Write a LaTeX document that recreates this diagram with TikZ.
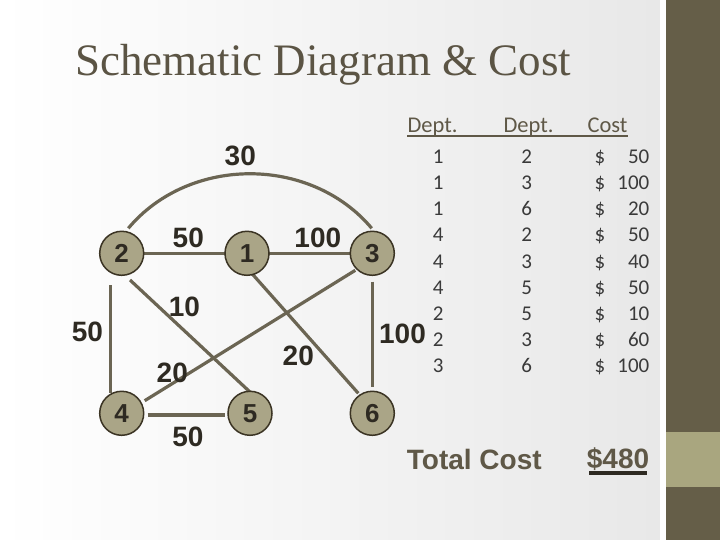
\documentclass[tikz,border=0pt]{standalone}
\usepackage{fontspec}
\setmainfont{Liberation Serif}
\newfontfamily\arialf{Liberation Sans}
\newfontfamily\calf{Carlito}
\usetikzlibrary{calc}
\pgfdeclarelayer{backg}
\pgfdeclarelayer{edgel}
\pgfsetlayers{backg,edgel,main}
\definecolor{edgec}{HTML}{6B6553}
\definecolor{nodefill}{HTML}{AAA587}
\definecolor{nodedraw}{HTML}{3B3424}
\definecolor{labc}{HTML}{2E2A22}
\definecolor{headc}{HTML}{5F5847}
\definecolor{numc}{HTML}{3A3A3A}
\definecolor{bardark}{HTML}{655E48}
\definecolor{barlight}{HTML}{A9A67F}
\definecolor{titlec}{HTML}{5B5444}
\definecolor{bgray}{HTML}{E8E8E8}
\tikzset{
  dept/.style={circle, fill=nodefill, draw=nodedraw, line width=1.5pt, minimum size=44pt, inner sep=0pt,
    font=\arialf\bfseries\fontsize{26}{26}\selectfont, text=labc},
  link/.style={draw=edgec, line width=3.2pt},
  wlab/.style={font=\arialf\bfseries\fontsize{28}{28}\selectfont, text=labc, inner sep=0pt},
  hd/.style={font=\calf\fontsize{22.5}{22.5}\selectfont, text=headc, inner sep=0pt, anchor=base west},
  cell/.style={font=\calf\fontsize{21}{21}\selectfont, text=numc, inner sep=0pt},
  tot/.style={font=\arialf\bfseries\fontsize{28}{28}\selectfont, text=headc, inner sep=0pt, anchor=base west}
}
\begin{document}
\begin{tikzpicture}[x=1pt,y=1pt]
\useasboundingbox (0,0) rectangle (720,540);
\begin{pgfonlayer}{backg}
  \shade[left color=white, right color=bgray] (0,0) rectangle (660,540);
  \fill[white] (660,0) rectangle (666,540);
  \fill[bardark] (666,0) rectangle (720,540);
  \fill[barlight] (666,53) rectangle (720,108);
\end{pgfonlayer}

% title
\node[font=\fontsize{45}{45}\selectfont, text=titlec, inner sep=0pt, anchor=base west] (title) at (75,464) {Schematic Diagram \& Cost};

% departments
\node[dept] (n2) at (121.7,286.7) {2};
\node[dept] (n1) at (247,286.7) {1};
\node[dept] (n3) at (372.3,286.7) {3};
\node[dept] (n4) at (121.7,126.7) {4};
\node[dept] (n5) at (250,126.7) {5};
\node[dept] (n6) at (372.3,126.7) {6};

\begin{pgfonlayer}{edgel}
  \draw[link] ([shift={(6.6pt,25pt)}]n2.center) to[out=50,in=130] ([shift={(-0.6pt,25pt)}]n3.center);
  \draw[link] (n2.center) -- (n1.center);
  \draw[link] (n1.center) -- (n3.center);
  \draw[link] ([shift={(-11pt,-32pt)}]n2.center) -- ([shift={(-11pt,20pt)}]n4.center);
  \draw[link] ([shift={(0pt,-28.4pt)}]n3.center) -- ([shift={(0pt,26.6pt)}]n6.center);
  \draw[link] ([shift={(8.3pt,-26.7pt)}]n2.center) -- ([shift={(1.7pt,19.7pt)}]n5.center);
  \draw[link] ([shift={(4.7pt,-20pt)}]n1.center) -- ([shift={(-14pt,20pt)}]n6.center);
  \draw[link] ([shift={(-17pt,-17pt)}]n3.center) -- ([shift={(23pt,12.6pt)}]n4.center);
  \draw[link] ([shift={(26pt,-1.7pt)}]n4.center) -- ([shift={(-25pt,-1.7pt)}]n5.center);
\end{pgfonlayer}

% weights
\node[wlab] (w30) at (240.3,383.7) {30};
\node[wlab] (w21) at (188.3,302.2) {50};
\node[wlab] (w13) at (317.8,302.2) {100};
\node[wlab] (w25) at (184.5,233) {10};
\node[wlab] (w24) at (87.5,208.3) {50};
\node[wlab] (w34) at (172.3,167.5) {20};
\node[wlab] (w16) at (298.3,184.2) {20};
\node[wlab] (w36) at (402.5,206.5) {100};
\node[wlab] (w45) at (188,103) {50};

% table header
\node[hd] (h1) at (407.3,407) {Dept.};
\node[hd] (h2) at (503.3,407) {Dept.};
\node[hd] (h3) at (587.3,407) {Cost};
\draw[headc, line width=2pt] ([yshift=-3pt]h1.base west) -- ([yshift=-3pt]h3.base east);

% table rows
\foreach \a/\b/\c [count=\i] in {1/2/50,1/3/100,1/6/20,4/2/50,4/3/40,4/5/50,2/5/10,2/3/60,3/6/100}{
  \pgfmathsetmacro{\yy}{376.7-26.2*(\i-1)}
  \node[cell, anchor=base] (ra\i) at (438.3,\yy) {\a};
  \node[cell, anchor=base] (rb\i) at (526.7,\yy) {\b};
  \node[cell, anchor=base] (rd\i) at (600,\yy) {\$};
  \node[cell, anchor=base east] (rc\i) at (649.5,\yy) {\c};
}

% total
\node[tot] (totl) at (406.7,70) {Total Cost};
\node[tot] (totv) at (586.7,71) {\$480};
\draw[draw=labc, line width=4pt] ([shift={(2.6pt,-4.5pt)}]totv.base west) -- ([shift={(-2.3pt,-4.5pt)}]totv.base east);
\end{tikzpicture}
\end{document}
